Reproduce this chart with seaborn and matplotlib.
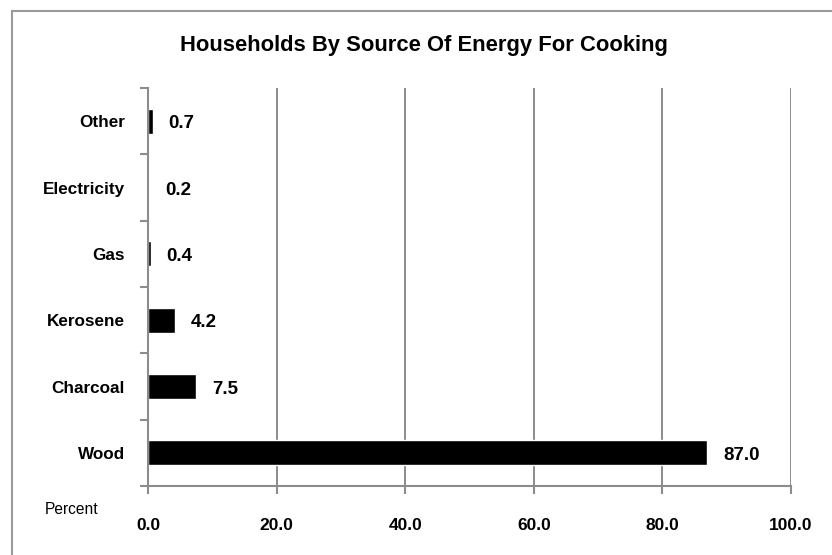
import numpy as np
import pandas as pd
import seaborn as sns
import matplotlib.pyplot as plt
from matplotlib.patches import Rectangle

# Dados
fontes = ['Other', 'Electricity', 'Gas', 'Kerosene', 'Charcoal', 'Wood']
percentuais = [0.7, 0.2, 0.4, 4.2, 7.5, 87.0]
ticks_x = [0, 20, 40, 60, 80, 100]

dados = pd.DataFrame({'fonte': fontes, 'pct': percentuais})

sns.set_style('white')
plt.rcParams['font.family'] = ['Liberation Sans', 'DejaVu Sans']
plt.rcParams['text.color'] = 'black'
plt.rcParams['xtick.color'] = 'black'
plt.rcParams['ytick.color'] = 'black'

fig = plt.figure(figsize=(8.32, 5.55), dpi=100)
ax = fig.add_axes([148 / 832, 1 - 486 / 555, (791 - 148) / 832, (486 - 88) / 555])

sns.barplot(data=dados, x='pct', y='fonte', order=fontes, color='black',
            width=0.38, orient='h', ax=ax, saturation=1)

cinza = '#8c8c8c'
ax.set_xlim(0, 100)
ax.set_ylim(len(fontes) - 0.5, -0.5)
ax.set_xticks(ticks_x)
ax.set_xticklabels([f'{v:.1f}' for v in ticks_x], fontsize=12.5, fontweight='bold')
ax.tick_params(axis='x', direction='out', length=6, width=1.5, color=cinza, pad=17, bottom=True)
ax.set_yticks(range(len(fontes)))
ax.set_yticklabels(fontes, fontsize=12.3, fontweight='bold')
ax.tick_params(axis='y', which='major', length=0, pad=16.5)
ax.set_yticks(np.arange(-0.5, len(fontes), 1), minor=True)
ax.tick_params(axis='y', which='minor', direction='out', length=6, width=1.5, color=cinza, left=True)

ax.grid(axis='x', color=cinza, linewidth=1.4)
ax.set_axisbelow(True)
for lado in ['top', 'right']:
    ax.spines[lado].set_visible(False)
for lado in ['left', 'bottom']:
    ax.spines[lado].set_color(cinza)
    ax.spines[lado].set_linewidth(1.5)

ax.set_xlabel('')
ax.set_ylabel('')

# Rotulos dos valores
for i, v in enumerate(percentuais):
    ax.annotate(f'{v:.1f}', (v, i), xytext=(11.5, -2), textcoords='offset points',
                va='center', ha='left', fontsize=13.5, fontweight='bold')

fig.text(424 / 832, 1 - 45 / 555, 'Households By Source Of Energy For Cooking',
         ha='center', va='center', fontsize=15.8, fontweight='bold')
fig.text(45 / 832, 1 - 509 / 555, 'Percent', ha='left', va='center', fontsize=11.2)

# Borda da figura
fig.patches.append(Rectangle((12 / 832, -0.05), 1.0, 1 - 11 / 555 + 0.05,
                             transform=fig.transFigure, fill=False,
                             edgecolor='#9a9a9a', linewidth=1.5))

plt.savefig('out.png', dpi=100)
